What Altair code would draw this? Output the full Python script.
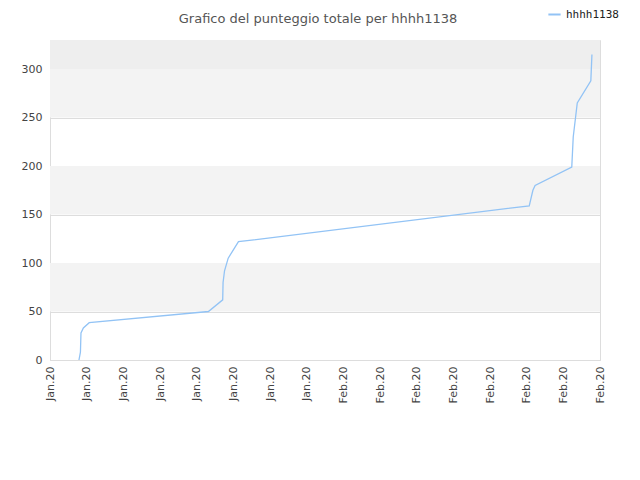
import altair as alt
import pandas as pd

# data (x in tick units along the time axis, y = total score)
x_pos = [0.79, 0.83, 0.845, 0.91, 1.07, 4.32, 4.71, 4.72, 4.76, 4.86, 5.14,
         13.07, 13.17, 13.23, 14.23, 14.27, 14.38, 14.75, 14.78]
scores = [0, 8, 28, 33, 38.5, 50, 62, 80, 92, 105, 122,
          159, 175, 180, 199, 230, 265, 288, 315]
tick_labels = ["Jan.20"] * 8 + ["Feb.20"] * 8
band_lo = [50, 150, 250, 300]
band_hi = [100, 200, 300, 330]
band_col = ["#f3f3f3", "#f3f3f3", "#f3f3f3", "#eeeeee"]

series = "hhhh1138"
df = pd.DataFrame({"x": x_pos, "y": scores, "s": [series] * len(x_pos)})
bands = pd.DataFrame({"lo": band_lo, "hi": band_hi, "c": band_col})

labels_js = "[" + ",".join('"%s"' % t for t in tick_labels) + "]"

xscale = alt.Scale(domain=[0, 15], nice=False, zero=False)
yscale = alt.Scale(domain=[0, 330], nice=False)

band_layer = alt.Chart(bands).mark_rect().encode(
    x=alt.value(0), x2=alt.value(550),
    y=alt.Y("lo:Q", scale=yscale), y2="hi:Q",
    color=alt.Color("c:N", scale=None),
)

line = alt.Chart(df).mark_line(strokeWidth=1.3, interpolate="linear").encode(
    x=alt.X("x:Q", scale=xscale, title=None,
            axis=alt.Axis(values=list(range(16)), labelExpr=labels_js + "[datum.value]",
                          labelAngle=-90, labelFontSize=11, labelColor="#444",
                          ticks=False, grid=False, domainColor="#dddddd",
                          labelPadding=6, labelFont="DejaVu Sans")),
    y=alt.Y("y:Q", scale=yscale, title=None,
            axis=alt.Axis(values=[0, 50, 100, 150, 200, 250, 300], ticks=False,
                          gridColor="#dddddd", domainColor="#dddddd",
                          labelFontSize=11, labelColor="#444", labelPadding=8,
                          labelFont="DejaVu Sans")),
    color=alt.Color("s:N", scale=alt.Scale(range=["#92c3f5"]),
                    legend=alt.Legend(title=None, orient="none", legendX=497, legendY=-33,
                                      symbolType="stroke", symbolSize=150, symbolStrokeWidth=2,
                                      labelFont="DejaVu Sans Mono", labelFontSize=11,
                                      labelColor="#222")),
)

chart = alt.layer(band_layer, line).properties(
    width=550, height=320,
    title=alt.TitleParams("Grafico del punteggio totale per hhhh1138", fontSize=13,
                          fontWeight="normal", color="#555", font="DejaVu Sans",
                          anchor="middle", dx=-7, offset=-19),
    autosize=alt.AutoSizeParams(type="none"),
    padding={"left": 42, "top": 32, "right": 30, "bottom": 70},
).configure_view(stroke="#dddddd")

chart.save("out.html", embed_options={"renderer": "svg", "actions": False})
